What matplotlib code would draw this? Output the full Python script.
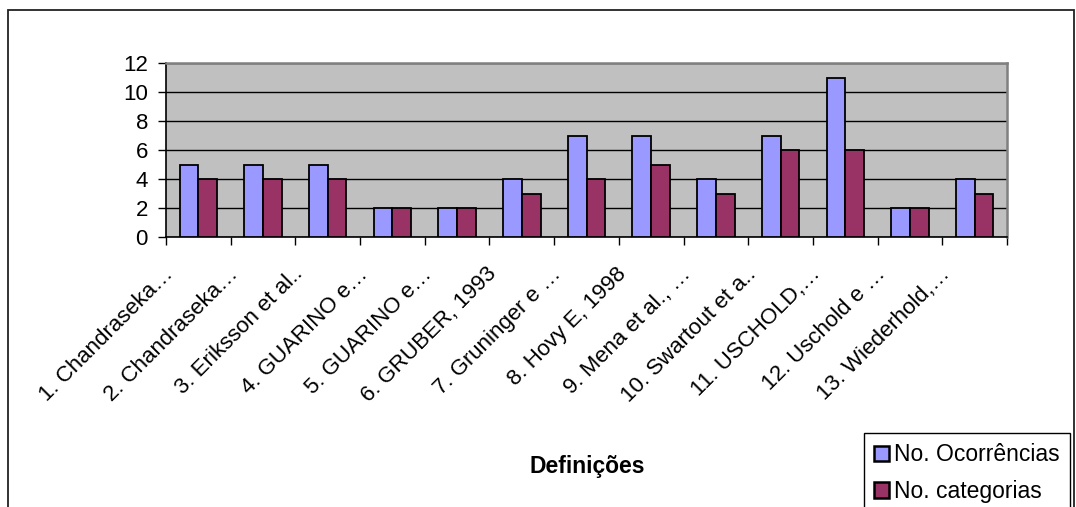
import matplotlib
matplotlib.use("Agg")
import matplotlib.pyplot as plt
import matplotlib.patches as mpatches
from matplotlib.transforms import ScaledTranslation
import numpy as np

# dados do grafico
definicoes = ["1. Chandraseka…", "2. Chandraseka…", "3. Eriksson et al..",
              "4. GUARINO e…", "5. GUARINO e…", "6. GRUBER, 1993",
              "7. Gruninger e …", "8. Hovy E, 1998", "9. Mena et al., …",
              "10. Swartout et a..", "11. USCHOLD,…", "12. Uschold e …",
              "13. Wiederhold,…"]
ocorrencias = [5, 5, 5, 2, 2, 4, 7, 7, 4, 7, 11, 2, 4]
categorias = [4, 4, 4, 2, 2, 3, 4, 5, 3, 6, 6, 2, 3]
yticks = [0, 2, 4, 6, 8, 10, 12]

plt.rcParams['font.family'] = ['Liberation Sans', 'DejaVu Sans']
W, H = 1076, 507
fig = plt.figure(figsize=(W / 100, H / 100), dpi=100)

# borda externa do grafico
fig.patches.append(mpatches.Rectangle((8 / W, -0.05), (1074 - 8) / W, 1 - 10 / H + 0.05,
                                      transform=fig.transFigure, fill=False,
                                      edgecolor='#222222', lw=1.3, clip_on=False))

ax = fig.add_axes([166 / W, 1 - 237 / H, (1007 - 166) / W, (237 - 63) / H])
ax.set_facecolor('#C0C0C0')

x = np.arange(len(definicoes)) + 0.5
bw = 0.29
b1 = ax.bar(x - bw / 2, ocorrencias, bw, color='#9999FF', edgecolor='black', lw=1.3,
            label='No. Ocorrências', zorder=3)
b2 = ax.bar(x + bw / 2, categorias, bw, color='#993366', edgecolor='black', lw=1.3,
            label='No. categorias', zorder=3)

ax.set_xlim(0, len(definicoes))
ax.set_ylim(0, 12)
ax.set_yticks(yticks)
ax.yaxis.grid(True, color='black', lw=1.0, zorder=1)
ax.set_axisbelow(True)
ax.tick_params(axis='y', labelsize=16, length=6, width=1, pad=7, direction='out')
ax.set_xticks(np.arange(len(definicoes) + 1))
ax.set_xticklabels([])
ax.tick_params(axis='x', length=6, width=1, direction='out')

for s in ['top', 'right']:
    ax.spines[s].set_color('#808080')
    ax.spines[s].set_linewidth(1.8)
for s in ['left', 'bottom']:
    ax.spines[s].set_color('black')
    ax.spines[s].set_linewidth(1.2)

# rotulos inclinados
desloc = ScaledTranslation(-0.28, -0.34, fig.dpi_scale_trans)
for xi, lab in zip(x, definicoes):
    ax.text(xi, 0, lab, transform=ax.transData + desloc, rotation=45,
            rotation_mode='anchor', ha='right', va='center', fontsize=16)

fig.text(587 / W, 1 - 466 / H, 'Definições', ha='center', va='center',
         fontsize=16.5, fontweight='bold')

leg = fig.legend(handles=[b1, b2], loc='upper left',
                 bbox_to_anchor=(864 / W, 1 - 433 / H), fontsize=16.5,
                 frameon=True, fancybox=False, edgecolor='black', framealpha=1,
                 handlelength=0.65, handleheight=0.65, handletextpad=0.2,
                 labelspacing=0.6, borderpad=0.45, borderaxespad=0)
leg.get_frame().set_linewidth(1.0)
for p in leg.get_patches():
    p.set_linewidth(1.8)

fig.savefig('out.png', dpi=100)
